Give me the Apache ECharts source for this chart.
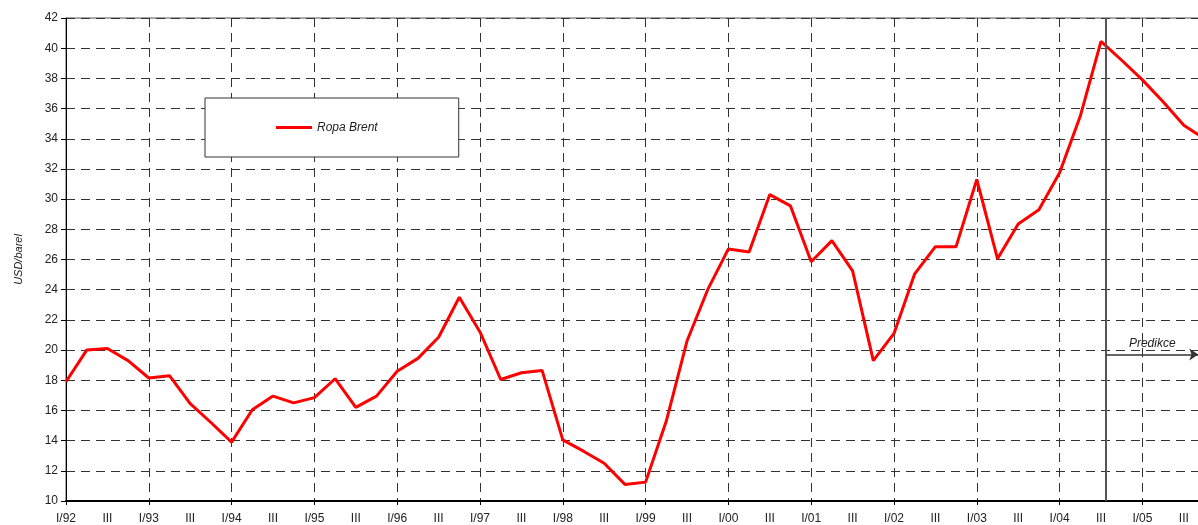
<!DOCTYPE html>
<html>
<head>
<meta charset="utf-8">
<script src="https://cdn.jsdelivr.net/npm/echarts@6/dist/echarts.min.js"></script>
<style>
  html, body { margin: 0; padding: 0; background: #fff; overflow: hidden; }
  /* graf je o kousek širší než okno: poslední čtvrtletí je oříznuté jako v předloze */
  #chart { width: 1206px; height: 525px; }
</style>
</head>
<body>
<div id="chart"></div>
<script>
// roky a čtvrtletí na ose X
const years = ['92', '93', '94', '95', '96', '97', '98', '99', '00', '01', '02', '03', '04', '05'];
const quarterNames = ['I', 'II', 'III', 'IV'];

// cena ropy Brent (USD/barel), čtvrtletně I/92 .. IV/05
const brent = [
  17.9, 20.0, 20.1, 19.3,
  18.15, 18.3, 16.45, 15.2,
  13.9, 16.05, 16.95, 16.5,
  16.85, 18.1, 16.2, 16.95,
  18.6, 19.45, 20.85, 23.5,
  21.2, 18.05, 18.5, 18.65,
  14.05, 13.3, 12.5, 11.1,
  11.25, 15.3, 20.6, 24.0,
  26.7, 26.5, 30.3, 29.55,
  25.85, 27.25, 25.25, 19.3,
  21.1, 25.05, 26.85, 26.85,
  31.3, 26.05, 28.35, 29.3,
  31.75, 35.5, 40.45, 39.2,
  37.9, 36.45, 34.9, 34.0
];

// hranice predikce (index čtvrtletí) a úroveň šipky
const forecastStart = 50.25;
const forecastArrowEnd = 54.7;
const forecastArrowLevel = 19.7;

const yTicks = { min: 10, max: 42, step: 2 };

// popisky kategorií: "I/92", "II", "III", "IV", ...
const categories = [];
years.forEach(y => {
  quarterNames.forEach((q, i) => categories.push(i === 0 ? q + '/' + y : q));
});

const seriesData = brent.map((v, i) => [i, v]);

const fontFamily = '"Liberation Sans", Arial, sans-serif';
const dash = [9, 6];

const chart = echarts.init(document.getElementById('chart'), null, { renderer: 'canvas' });

chart.setOption({
  animation: false,
  backgroundColor: '#fff',
  textStyle: { fontFamily: fontFamily },
  grid: {
    left: 66,
    top: 18,
    width: 1138.5,
    height: 483,
    show: true,
    borderColor: '#555',
    borderWidth: 1,
    backgroundColor: 'transparent'
  },
  legend: {
    left: 205,
    top: 98,
    padding: [22, 81, 22, 71],
    backgroundColor: '#fff',
    borderColor: '#333',
    borderWidth: 1,
    borderRadius: 0,
    itemWidth: 36,
    itemHeight: 3,
    itemGap: 0,
    textStyle: { fontSize: 12, fontStyle: 'italic', color: '#222', fontFamily: fontFamily, lineHeight: 15 },
    data: [{ name: 'Ropa Brent', icon: 'rect' }]
  },
  xAxis: [
    {
      type: 'category',
      data: categories,
      boundaryGap: false,
      axisLine: { show: true, lineStyle: { color: '#000', width: 2 } },
      axisTick: {
        show: true,
        length: 4,
        interval: (i) => i % 4 === 0,
        lineStyle: { color: '#000' }
      },
      axisLabel: {
        interval: 1,
        margin: 12,
        fontSize: 12,
        color: '#222',
        fontFamily: fontFamily
      },
      splitLine: {
        show: true,
        interval: (i) => i % 4 === 0,
        lineStyle: { color: '#333', type: dash, width: 1 }
      }
    },
    {
      type: 'value',
      min: 0,
      max: categories.length - 1,
      show: false,
      splitLine: { show: false }
    }
  ],
  yAxis: {
    type: 'value',
    min: yTicks.min,
    max: yTicks.max,
    interval: yTicks.step,
    name: 'USD/barel',
    nameLocation: 'middle',
    nameGap: 42,
    nameRotate: 90,
    nameTextStyle: { fontSize: 11, fontStyle: 'italic', color: '#222', fontFamily: fontFamily },
    axisLine: { show: true, lineStyle: { color: '#000', width: 1 } },
    axisTick: { show: true, length: 5, lineStyle: { color: '#000' } },
    axisLabel: { fontSize: 12, color: '#222', margin: 8, fontFamily: fontFamily },
    splitLine: { show: true, lineStyle: { color: '#333', type: dash, width: 1 } }
  },
  series: [
    {
      name: 'Ropa Brent',
      type: 'line',
      xAxisIndex: 1,
      data: seriesData,
      symbol: 'none',
      lineStyle: { color: '#ff0000', width: 3 },
      itemStyle: { color: '#ff0000' },
      z: 3,
      markLine: {
        silent: true,
        animation: false,
        symbol: ['none', 'none'],
        data: [
          {
            xAxis: forecastStart,
            lineStyle: { color: '#555', width: 2, type: 'solid' },
            label: { show: false }
          },
          [
            {
              coord: [forecastStart, forecastArrowLevel],
              symbol: 'none',
              lineStyle: { color: '#333', width: 1.5, type: 'solid' },
              label: {
                show: true,
                formatter: 'Predikce',
                position: 'insideMiddleTop',
                fontSize: 12,
                fontStyle: 'italic',
                color: '#222',
                fontFamily: fontFamily
              }
            },
            { coord: [forecastArrowEnd, forecastArrowLevel], symbol: 'arrow', symbolSize: 9 }
          ]
        ]
      }
    }
  ]
});
</script>
</body>
</html>
